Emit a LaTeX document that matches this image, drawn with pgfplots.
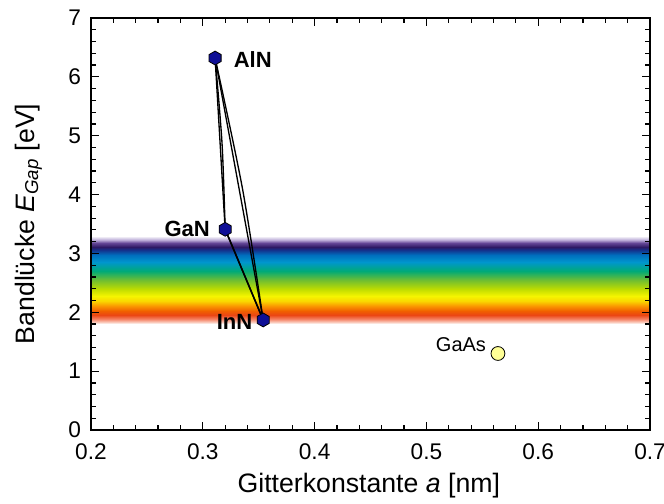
\documentclass[border=0pt]{standalone}
\usepackage{pgfplots}
\pgfplotsset{compat=1.18}
\usepackage{fontspec}
\setmainfont{Liberation Sans}

\definecolor{navyhex}{RGB}{15,15,150}
\definecolor{gaasfill}{RGB}{255,255,150}

\pgfdeclareplotmark{hexagon}{%
  \pgfpathmoveto{\pgfqpointpolar{90}{\pgfplotmarksize}}%
  \pgfpathlineto{\pgfqpointpolar{150}{\pgfplotmarksize}}%
  \pgfpathlineto{\pgfqpointpolar{210}{\pgfplotmarksize}}%
  \pgfpathlineto{\pgfqpointpolar{270}{\pgfplotmarksize}}%
  \pgfpathlineto{\pgfqpointpolar{330}{\pgfplotmarksize}}%
  \pgfpathlineto{\pgfqpointpolar{30}{\pgfplotmarksize}}%
  \pgfpathclose
  \pgfusepathqfillstroke}

% visible spectrum band, rows of the band (x left, x right per energy)
\pgfplotstableread{
x y
0.2 1.80
0.7 1.80
0.2 1.84
0.7 1.84
0.2 1.89
0.7 1.89
0.2 1.95
0.7 1.95
0.2 2.02
0.7 2.02
0.2 2.10
0.7 2.10
0.2 2.20
0.7 2.20
0.2 2.28
0.7 2.28
0.2 2.40
0.7 2.40
0.2 2.55
0.7 2.55
0.2 2.70
0.7 2.70
0.2 2.85
0.7 2.85
0.2 2.98
0.7 2.98
0.2 3.05
0.7 3.05
0.2 3.11
0.7 3.11
0.2 3.17
0.7 3.17
0.2 3.23
0.7 3.23
0.2 3.30
0.7 3.30
}\bandtable

\begin{document}
\begin{tikzpicture}
\begin{axis}[
  scale only axis,
  width=419.25pt, height=309pt,
  xmin=0.2, xmax=0.7, ymin=0, ymax=7,
  xtick={0.2,0.3,0.4,0.5,0.6,0.7},
  ytick={0,1,2,3,4,5,6,7},
  minor x tick num=4, minor y tick num=4,
  tick align=inside,
  major tick length=6pt, minor tick length=3.5pt,
  every tick/.style={black, line width=0.9pt},
  axis line style={line width=1pt},
  xticklabel style={/pgf/number format/fixed, /pgf/number format/fixed zerofill, /pgf/number format/precision=1},
  /pgf/number format/assume math mode=true,
  tick label style={font=\fontsize{17}{19}\selectfont},
  xticklabel style={yshift=-7pt},
  yticklabel style={xshift=-4pt},
  label style={font=\fontsize{20}{22}\selectfont},
  xlabel={Gitterkonstante {\itshape a} [nm]},
  ylabel={Bandlücke {\itshape E}\textsubscript{\itshape Gap} [eV]},
  xlabel style={at={(axis description cs:0.497,-0.136)}, anchor=center},
  ylabel style={at={(axis description cs:-0.112,0.5)}, anchor=center},
  axis on top,
  clip=false,
  colormap={band}{
    rgb255(0cm)=(255,255,255)
    rgb255(0.4cm)=(250,200,185)
    rgb255(0.9cm)=(245,130,100)
    rgb255(1.5cm)=(235,70,20)
    rgb255(2.2cm)=(240,95,0)
    rgb255(3cm)=(250,150,0)
    rgb255(4cm)=(250,215,0)
    rgb255(4.8cm)=(245,245,0)
    rgb255(6cm)=(190,220,0)
    rgb255(7.5cm)=(110,190,50)
    rgb255(9cm)=(0,170,120)
    rgb255(10.5cm)=(0,150,205)
    rgb255(11.8cm)=(0,110,190)
    rgb255(12.5cm)=(20,50,140)
    rgb255(13.1cm)=(45,25,100)
    rgb255(13.7cm)=(100,70,150)
    rgb255(14.3cm)=(185,170,215)
    rgb255(15cm)=(255,255,255)
  },
  point meta min=1.8, point meta max=3.3,
]
\addplot[surf, shader=interp, mesh/cols=2, mesh/ordering=x varies, point meta=y] table {\bandtable};

% AlN - GaN
\addplot[black, line width=1pt] coordinates {(0.311,6.32) (0.320,3.41)};
\addplot[black, line width=1pt, smooth] coordinates {(0.311,6.32) (0.3172,4.87) (0.320,3.41)};
% AlN - InN
\addplot[black, line width=1pt] coordinates {(0.311,6.32) (0.354,1.87)};
\addplot[black, line width=1pt, smooth] coordinates {(0.311,6.32) (0.3355,4.10) (0.354,1.87)};
% GaN - InN
\addplot[black, line width=1.1pt] coordinates {(0.320,3.41) (0.354,1.87)};
\addplot[black, line width=1.1pt, smooth] coordinates {(0.320,3.41) (0.3375,2.62) (0.354,1.87)};

\addplot[only marks, mark=hexagon, mark size=5.2pt, mark options={fill=navyhex, draw=black, line width=0.6pt}]
  coordinates {(0.311,6.32) (0.320,3.41) (0.354,1.87)};
\addplot[only marks, mark=*, mark size=5.2pt, mark options={fill=gaasfill, draw=black, line width=0.6pt}]
  coordinates {(0.564,1.30)};

\node[anchor=west, font=\fontsize{16.5}{18}\selectfont\bfseries] at (axis cs:0.3235,6.30) {AlN};
\node[anchor=east, font=\fontsize{16.5}{18}\selectfont\bfseries] at (axis cs:0.3105,3.41) {GaN};
\node[anchor=east, font=\fontsize{16.5}{18}\selectfont\bfseries] at (axis cs:0.3485,1.83) {InN};
\node[anchor=east, font=\fontsize{15}{17}\selectfont] at (axis cs:0.5575,1.45) {GaAs};

\coordinate (bbsw) at ([shift={(-68.25pt,-54.75pt)}]rel axis cs:0,0);
\coordinate (bbne) at ([shift={(10.5pt,13.5pt)}]rel axis cs:1,1);
\end{axis}
\pgfresetboundingbox
\path (bbsw) rectangle (bbne);
\end{tikzpicture}
\end{document}
